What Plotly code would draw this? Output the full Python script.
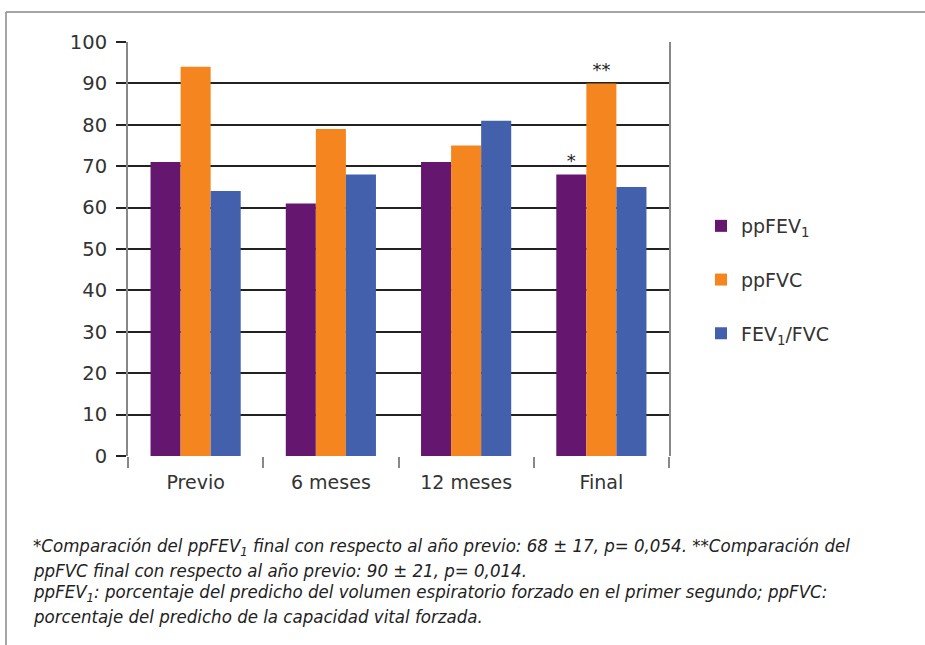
import plotly.graph_objects as go

categories = ["Previo", "6 meses", "12 meses", "Final"]
ppfev1 = [71, 61, 71, 68]
ppfvc = [94, 79, 75, 90]
fev1_fvc = [64, 68, 81, 65]
sig_fev1 = ["", "", "", "*"]
sig_fvc = ["", "", "", "**"]
series_names = ["ppFEV<sub>1</sub>", "ppFVC", "FEV<sub>1</sub>/FVC"]
colors = ["#65166E", "#F5861F", "#4360AC"]
y_ticks = [0, 10, 20, 30, 40, 50, 60, 70, 80, 90, 100]
footnote_lines = [
    "*Comparación del ppFEV<sub>1</sub> final con respecto al año previo: 68 ± 17, p= 0,054. **Comparación del",
    "ppFVC final con respecto al año previo: 90 ± 21, p= 0,014.",
    "ppFEV<sub>1</sub>: porcentaje del predicho del volumen espiratorio forzado en el primer segundo; ppFVC:",
    "porcentaje del predicho de la capacidad vital forzada.",
]

W, H = 925, 645
L, R, T, B = 128, 256, 42, 189
pw = W - L - R
ph = H - T - B

fig = go.Figure()
for i, (vals, txt) in enumerate(zip([ppfev1, ppfvc, fev1_fvc], [sig_fev1, sig_fvc, ["", "", "", ""]])):
    fig.add_trace(go.Bar(
        x=categories, y=vals, name=series_names[i],
        marker=dict(color=colors[i], line=dict(width=0)),
        text=txt, textposition="outside", cliponaxis=False,
        textfont=dict(family="DejaVu Sans", size=18, color="#222"),
        legendgroup=f"g{i}",
    ))

fig.update_layout(
    width=W, height=H, autosize=False,
    margin=dict(l=L, r=R, t=T, b=B, pad=0),
    paper_bgcolor="white", plot_bgcolor="white",
    barmode="group", bargap=1/3, bargroupgap=0,
    font=dict(family="DejaVu Sans", size=19, color="#333"),
    legend=dict(
        x=(701 - L) / pw, xanchor="left", xref="paper",
        y=(456 - 280) / ph, yanchor="middle",
        font=dict(size=19, color="#333"),
        tracegroupgap=26, bgcolor="rgba(0,0,0,0)",
    ),
)
fig.update_xaxes(
    type="category", showgrid=False, showline=False, zeroline=False,
    ticks="outside", tickson="boundaries", ticklen=11, tickwidth=1.5, tickcolor="#888",
    tickfont=dict(size=19, color="#333"), ticklabelstandoff=13,
)
fig.update_yaxes(
    range=[0, 100], tickvals=y_ticks, showgrid=True, gridcolor="#222", gridwidth=1.6,
    zeroline=False, showline=True, linecolor="#888", linewidth=2, mirror=True,
    ticks="outside", ticklen=10, tickcolor="#222", tickwidth=1.6,
    tickfont=dict(size=19.5, color="#333"), ticklabelstandoff=5,
)

# outer frame
fig.add_shape(type="line", xref="paper", yref="paper",
              x0=(6 - L) / pw, x1=(W + 5 - L) / pw, y0=(H - B - 12) / ph, y1=(H - B - 12) / ph,
              line=dict(color="#888", width=1.5))
fig.add_shape(type="line", xref="paper", yref="paper",
              x0=(6 - L) / pw, x1=(6 - L) / pw, y0=(H - B - 12) / ph, y1=(H - B - H - 5) / ph,
              line=dict(color="#888", width=1.5))

line_y = [547, 570, 593, 616]
for txt, yy in zip(footnote_lines, line_y):
    fig.add_annotation(
        text=f"<i>{txt}</i>", xref="paper", yref="paper",
        x=(31 - L) / pw, xanchor="left", y=(456 - yy) / ph, yanchor="middle",
        showarrow=False, align="left",
        font=dict(family="DejaVu Sans Condensed, Liberation Sans", size=18.5, color="#222"),
    )

fig.write_html("out.html", config={"displayModeBar": False},
               post_script="document.body.style.margin='0px';")
